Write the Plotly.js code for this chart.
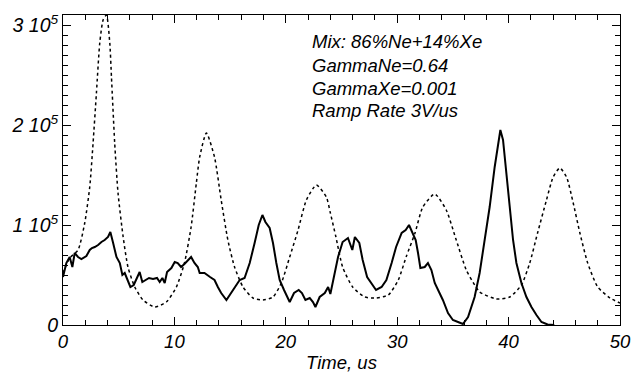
<!DOCTYPE html>
<html>
<head>
<meta charset="utf-8">
<script src="https://cdn.plot.ly/plotly-3.0.1.min.js"></script>
<style>html,body{margin:0;padding:0;background:#fff;}#chart{width:631px;height:373px;}
#chart .xtick text, #chart .ytick text, #chart .xtitle, #chart .annotation-text {font-style: italic !important;}
</style>
</head>
<body>
<div id="chart"></div>
<script>
// Measured (solid) curve
const measX = [0, 0.3, 0.6, 0.84, 1.05, 1.35, 1.65, 2.1, 2.4, 2.6, 2.85, 3.15, 3.45, 3.74, 4.04, 4.25, 4.5, 4.8, 5.1, 5.33, 5.54, 5.78, 6.05, 6.35, 6.64, 6.88, 7.12, 7.42, 7.72, 8.08, 8.44, 8.68, 8.92, 9.13, 9.34, 9.73, 10.03, 10.3, 10.6, 10.9, 11.2, 11.5, 11.8, 12.1, 12.27, 12.7, 13.2, 13.6, 13.9, 14.2, 14.67, 15.1, 15.57, 15.86, 16.3, 16.76, 17.2, 17.57, 17.9, 18.17, 18.55, 18.85, 19.15, 19.45, 19.84, 20.35, 20.74, 21.16, 21.45, 21.76, 22.15, 22.44, 22.66, 23.04, 23.5, 23.8, 24.0, 24.24, 24.69, 25.1, 25.58, 25.97, 26.2, 26.6, 26.9, 27.3, 27.7, 28.1, 28.6, 29.03, 29.5, 29.9, 30.4, 30.76, 31.06, 31.36, 31.66, 31.87, 32.08, 32.47, 32.76, 33.07, 33.37, 33.8, 34.1, 34.56, 35.0, 35.46, 35.9, 36.36, 36.8, 36.95, 37.4, 37.86, 38.3, 38.75, 39.05, 39.26, 39.5, 39.8, 40.1, 40.4, 40.7, 41.15, 41.6, 42.05, 42.5, 42.95, 43.5, 44.1];
const measY = [48000, 62000, 68000, 58000, 72000, 68000, 66000, 69000, 75000, 77000, 78000, 80000, 83000, 85000, 88000, 93000, 82000, 68000, 62000, 50000, 52000, 45000, 38000, 40000, 48000, 53000, 43000, 45000, 47000, 46000, 47000, 43000, 47000, 42000, 53000, 57000, 63000, 62000, 58000, 61000, 65000, 68000, 62000, 58000, 52000, 52000, 48000, 45000, 38000, 32000, 25000, 32000, 40000, 45000, 47000, 62000, 82000, 100000, 110000, 103000, 97000, 82000, 62000, 45000, 35000, 23000, 32000, 35000, 32000, 25000, 27000, 23000, 18000, 28000, 32000, 38000, 31000, 45000, 68000, 83000, 87000, 75000, 88000, 82000, 65000, 48000, 42000, 35000, 38000, 45000, 62000, 78000, 92000, 95000, 100000, 93000, 85000, 72000, 57000, 58000, 62000, 55000, 42000, 32000, 25000, 12000, 5000, 3000, 1000, 8000, 22000, 28000, 52000, 85000, 118000, 158000, 182000, 195000, 185000, 152000, 118000, 85000, 62000, 42000, 28000, 18000, 10000, 3000, 500, 0];

// Simulated (dotted) curve
const simX = [0, 0.6, 1.35, 1.95, 2.4, 2.7, 3.0, 3.3, 3.6, 3.9, 4.2, 4.35, 4.64, 4.94, 5.4, 5.83, 6.44, 7.18, 8.23, 9.28, 10.18, 10.9, 11.5, 11.97, 12.27, 12.87, 13.6, 14.2, 14.8, 15.4, 16.16, 17.05, 17.95, 18.85, 19.6, 20.35, 21.1, 21.85, 22.75, 23.64, 24.0, 24.5, 25.1, 26.0, 27.1, 28.1, 29.2, 30.1, 30.8, 31.6, 32.3, 33.37, 34.4, 35.3, 36.2, 36.96, 37.4, 38.9, 40.1, 41.15, 41.9, 42.6, 43.4, 44.0, 44.6, 45.2, 45.8, 46.4, 47.1, 48.0, 49.1, 50];
const simY = [52000, 67000, 75000, 102000, 138000, 182000, 232000, 282000, 305000, 310000, 282000, 248000, 182000, 132000, 88000, 58000, 38000, 25000, 18000, 23000, 38000, 62000, 98000, 142000, 168000, 192000, 168000, 125000, 85000, 58000, 38000, 27000, 25000, 28000, 42000, 68000, 95000, 125000, 140000, 128000, 112000, 88000, 58000, 38000, 28000, 27000, 30000, 45000, 68000, 92000, 118000, 131000, 115000, 85000, 55000, 40000, 33000, 26000, 28000, 40000, 62000, 92000, 125000, 148000, 157000, 148000, 122000, 92000, 62000, 38000, 27000, 22000];

const yTickVals = [0, 100000, 200000, 300000];
const yTickText = ['0', '1 10<sup>5</sup>', '2 10<sup>5</sup>', '3 10<sup>5</sup>'];
const xTitle = 'Time, us';
const noteLines = ['Mix: 86%Ne+14%Xe', 'GammaNe=0.64', 'GammaXe=0.001', 'Ramp Rate 3V/us'];

const FONT = 'Liberation Sans, Arial, sans-serif';

const traces = [
  {x: simX, y: simY, type: 'scatter', mode: 'lines',
   line: {color: '#000', width: 1.5, dash: '3px,3px', shape: 'spline', smoothing: 0.6}, hoverinfo: 'skip'},
  {x: measX, y: measY, type: 'scatter', mode: 'lines',
   line: {color: '#000', width: 2}, hoverinfo: 'skip'}
];

const noteY = [0.914, 0.8365, 0.7645, 0.691];
const annotations = noteLines.map((t, i) => ({
  text: t, xref: 'paper', yref: 'paper', x: 0.444, y: noteY[i],
  xanchor: 'left', yanchor: 'middle', showarrow: false,
  font: {family: FONT, size: 18.5, color: '#000', style: 'italic'}
}));

const axisCommon = {
  showgrid: false, zeroline: false, showline: true, linecolor: '#000', linewidth: 1,
  mirror: 'allticks', ticks: 'inside', tickcolor: '#000', tickwidth: 1
};

const layout = {
  width: 631, height: 373,
  margin: {l: 63, r: 11, t: 15, b: 48},
  paper_bgcolor: '#fff', plot_bgcolor: '#fff',
  showlegend: false,
  xaxis: Object.assign({}, axisCommon, {
    range: [0, 50], tickvals: [0, 10, 20, 30, 40, 50], ticklen: 8,
    tickfont: {family: FONT, size: 18.5, color: '#000', style: 'italic'},
    minor: {dtick: 2, ticklen: 5, ticks: 'inside', tickcolor: '#000'},
    title: {text: xTitle, font: {family: FONT, size: 18.5, color: '#000', style: 'italic'}, standoff: 5}
  }),
  yaxis: Object.assign({}, axisCommon, {
    range: [0, 310000], tickvals: yTickVals, ticktext: yTickText, ticklen: 8,
    tickfont: {family: FONT, size: 19.5, color: '#000', style: 'italic'},
    minor: {dtick: 10000, ticklen: 5, ticks: 'inside', tickcolor: '#000'}
  }),
  annotations: annotations
};

Plotly.newPlot('chart', traces, layout, {staticPlot: true, displayModeBar: false});
</script>
</body>
</html>
